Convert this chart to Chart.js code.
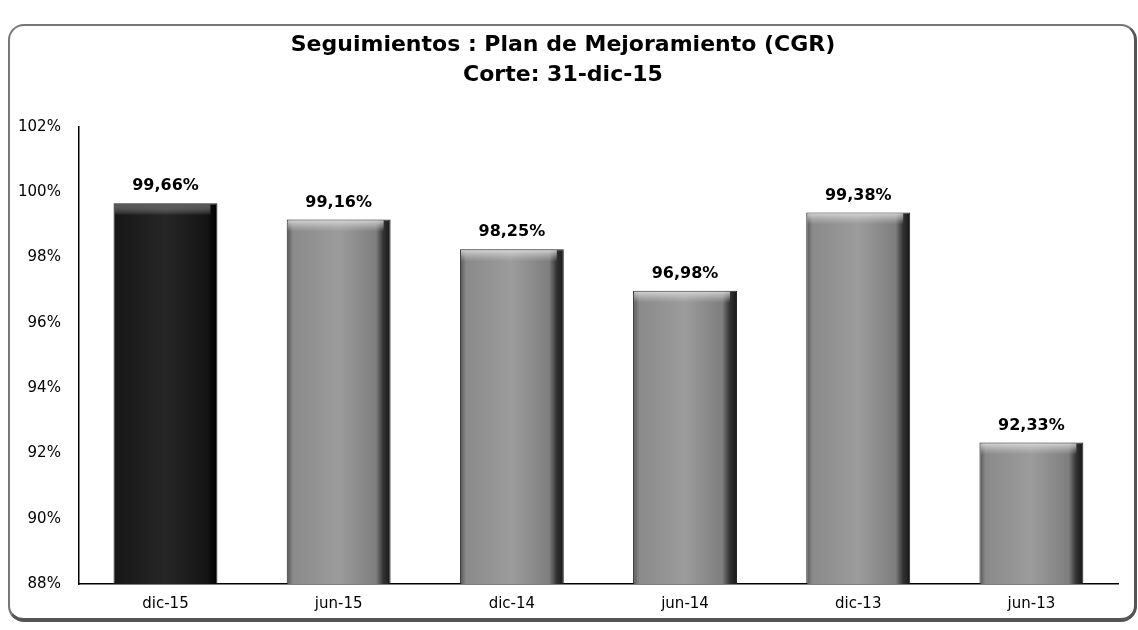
<!DOCTYPE html>
<html>
<head>
<meta charset="utf-8">
<script src="https://cdn.jsdelivr.net/npm/chart.js@4"></script>
<style>
  body { margin: 0; background: #fff; }
  #wrap { position: relative; width: 1138px; height: 630px; }
  #frame {
    position: absolute; left: 8px; top: 24px; width: 1124px; height: 592px;
    border: 2px solid #777; border-radius: 16px;
    border-bottom: 4px solid #555; border-right: 3px solid #555;
    pointer-events: none;
  }
</style>
</head>
<body>
<div id="wrap">
  <canvas id="chart" width="1138" height="630"></canvas>
  <div id="frame"></div>
</div>
<script>
const categories = ['dic-15', 'jun-15', 'dic-14', 'jun-14', 'dic-13', 'jun-13'];
const values = [99.66, 99.16, 98.25, 96.98, 99.38, 92.33];
const valueLabels = ['99,66%', '99,16%', '98,25%', '96,98%', '99,38%', '92,33%'];
const yTicks = [88, 90, 92, 94, 96, 98, 100, 102];

const FONT = '"DejaVu Sans", Verdana, sans-serif';
const BAR_PCT = 0.6;

// shaded fill: dark for the latest cut, gray with a dark right side for the rest
function barFill(context) {
    const chart = context.chart;
    const i = context.dataIndex;
    const xs = chart.scales.x;
    if (!xs || !Number.isFinite(xs.width) || xs.width <= 0) return i === 0 ? '#1e1e1e' : '#8e8e8e';
    const cx = xs.getPixelForValue(i);
    const half = xs.width / categories.length * BAR_PCT / 2;
    if (!Number.isFinite(cx)) return i === 0 ? '#1e1e1e' : '#8e8e8e';
    const g = chart.ctx.createLinearGradient(cx - half, 0, cx + half, 0);
    if (i === 0) {
        g.addColorStop(0, '#161616');
        g.addColorStop(0.5, '#262626');
        g.addColorStop(0.9, '#141414');
        g.addColorStop(1, '#000');
    } else {
        g.addColorStop(0, '#555');
        g.addColorStop(0.06, '#8a8a8a');
        g.addColorStop(0.5, '#9c9c9c');
        g.addColorStop(0.86, '#7e7e7e');
        g.addColorStop(0.93, '#333');
        g.addColorStop(1, '#151515');
    }
    return g;
}

// light bevel along the top of each bar
const barBevel = {
    id: 'barBevel',
    afterDatasetsDraw(chart) {
        const ctx = chart.ctx;
        chart.getDatasetMeta(0).data.forEach((bar, i) => {
            const half = bar.width / 2;
            const g = ctx.createLinearGradient(0, bar.y, 0, bar.y + 12);
            g.addColorStop(0, i === 0 ? 'rgba(90,90,90,0.9)' : 'rgba(225,225,225,0.9)');
            g.addColorStop(1, 'rgba(200,200,200,0)');
            ctx.save();
            ctx.fillStyle = g;
            ctx.fillRect(bar.x - half + 1, bar.y + 1, bar.width - 8, 12);
            ctx.restore();
        });
    }
};

// value labels above the bars
const valueLabelPlugin = {
    id: 'valueLabels',
    afterDatasetsDraw(chart) {
        const ctx = chart.ctx;
        const meta = chart.getDatasetMeta(0);
        ctx.save();
        ctx.font = 'bold 16px ' + FONT;
        ctx.fillStyle = '#000';
        ctx.textAlign = 'center';
        ctx.textBaseline = 'bottom';
        meta.data.forEach((bar, i) => {
            ctx.fillText(valueLabels[i], bar.x, bar.y - 9);
        });
        ctx.restore();
    }
};

new Chart(document.getElementById('chart'), {
    type: 'bar',
    data: {
        labels: categories,
        datasets: [{
            data: values,
            backgroundColor: barFill,
            borderColor: '#222',
            borderWidth: 1,
            borderSkipped: 'bottom',
            barPercentage: BAR_PCT,
            categoryPercentage: 1.0
        }]
    },
    options: {
        responsive: false,
        animation: false,
        layout: { padding: { left: 8, right: 20, bottom: 14 } },
        plugins: {
            legend: { display: false },
            tooltip: { enabled: false },
            title: {
                display: true,
                text: ['Seguimientos : Plan de Mejoramiento (CGR)', 'Corte: 31-dic-15'],
                color: '#000',
                font: { family: FONT, size: 22, weight: 'bold', lineHeight: 1.36 },
                padding: { top: 30, bottom: 37 }
            }
        },
        scales: {
            x: {
                grid: { display: false },
                border: { display: true, color: '#000', width: 1.5 },
                ticks: { color: '#000', font: { family: FONT, size: 15 }, padding: 3 }
            },
            y: {
                min: 88,
                max: 102,
                afterBuildTicks: axis => { axis.ticks = yTicks.map(v => ({ value: v })); },
                grid: { display: false },
                border: { display: true, color: '#000', width: 1.5 },
                ticks: {
                    color: '#000',
                    font: { family: FONT, size: 15 },
                    padding: 10,
                    callback: v => v + '%'
                }
            }
        }
    },
    plugins: [barBevel, valueLabelPlugin]
});
</script>
</body>
</html>
